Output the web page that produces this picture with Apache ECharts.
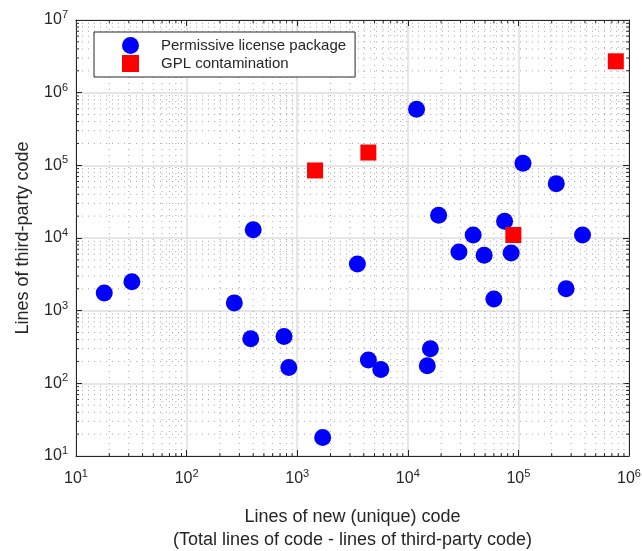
<!DOCTYPE html>
<html>
<head>
<meta charset="utf-8">
<script src="https://cdn.jsdelivr.net/npm/echarts@6/dist/echarts.min.js"></script>
<style>
  html, body { margin: 0; padding: 0; background: #fff; }
  #chart { width: 642px; height: 551px; }
</style>
</head>
<body>
<div id="chart"></div>
<script>
// [new lines of code, third-party lines]
const permissive = [
  [18, 1750], [32, 2500], [270, 1280], [380, 410], [760, 440], [840, 165],
  [1700, 18], [400, 13000], [3500, 4400], [4400, 210], [5700, 155],
  [15000, 175], [16000, 300], [12000, 590000], [19000, 20500],
  [29000, 6400], [39000, 11000], [49000, 5800], [60000, 1450],
  [75000, 17000], [86000, 6200], [110000, 107000], [220000, 56000],
  [270000, 2000], [380000, 11000]
];
const gpl = [
  [1450, 85000], [4400, 150000], [90000, 11000], [760000, 2700000]
];
const xDecades = [1, 2, 3, 4, 5, 6];
const yDecades = [1, 2, 3, 4, 5, 6, 7];

const FONT = "'Liberation Sans', Arial, sans-serif";
const INK = '#262626';

// minor grid positions (2..9 x 10^k)
const minorVals = (decs) => {
  const out = [];
  decs.slice(0, -1).forEach(k => {
    for (let m = 2; m <= 9; m++) out.push(m * Math.pow(10, k));
  });
  return out;
};
const xMinor = minorVals(xDecades);
const yMinor = minorVals(yDecades);
const XMIN = 10, XMAX = 1e6, YMIN = 10, YMAX = 1e7;

const dotted = { stroke: '#a8a8a8', lineWidth: 1, lineDash: [1, 5] };
const tickStyle = { stroke: INK, lineWidth: 1 };

const vertMinor = (params, api) => {
  const v = api.value(0);
  const b = api.coord([v, YMIN]);
  const t = api.coord([v, YMAX]);
  return {
    type: 'group',
    children: [
      { type: 'line', shape: { x1: b[0], y1: b[1], x2: t[0], y2: t[1] }, style: dotted },
      { type: 'line', shape: { x1: b[0], y1: b[1], x2: b[0], y2: b[1] - 3 }, style: tickStyle },
      { type: 'line', shape: { x1: t[0], y1: t[1], x2: t[0], y2: t[1] + 3 }, style: tickStyle }
    ]
  };
};
const horzMinor = (params, api) => {
  const v = api.value(1);
  const l = api.coord([XMIN, v]);
  const r = api.coord([XMAX, v]);
  return {
    type: 'group',
    children: [
      { type: 'line', shape: { x1: l[0], y1: l[1], x2: r[0], y2: r[1] }, style: dotted },
      { type: 'line', shape: { x1: l[0], y1: l[1], x2: l[0] + 3, y2: l[1] }, style: tickStyle },
      { type: 'line', shape: { x1: r[0], y1: r[1], x2: r[0] - 3, y2: r[1] }, style: tickStyle }
    ]
  };
};

const powLabel = (value) => '{b|10}{s|' + Math.round(Math.log10(value)) + '}';
const labelRich = {
  b: { fontSize: 16, fontFamily: FONT, color: INK },
  s: { fontSize: 11, fontFamily: FONT, color: INK, padding: [0, 0, 10, 0] }
};

const logAxis = (min, max, extra) => Object.assign({
  type: 'log',
  logBase: 10,
  min: min,
  max: max,
  axisLine: { show: true, onZero: false, lineStyle: { color: INK, width: 1 } },
  axisTick: { show: true, inside: true, length: 6, lineStyle: { color: INK } },
  minorTick: { show: false },
  splitLine: { show: false }
}, extra);

const chart = echarts.init(document.getElementById('chart'));

const option = {
  animation: false,
  backgroundColor: '#fff',
  grid: { left: 76, right: 13, top: 20, bottom: 95, containLabel: false, outerBoundsMode: 'none' },
  legend: {
    orient: 'vertical',
    left: 94,
    top: 32,
    padding: [5, 9, 5, 28],
    itemGap: 1,
    itemWidth: 17,
    itemHeight: 17,
    backgroundColor: '#fff',
    borderColor: INK,
    borderWidth: 1,
    borderRadius: 0,
    textStyle: { fontSize: 15, fontFamily: FONT, color: INK, padding: [0, 0, 0, 17] },
    data: ['Permissive license package', 'GPL contamination']
  },
  xAxis: [
    logAxis(XMIN, XMAX, {
      position: 'bottom',
      name: 'Lines of new (unique) code\n(Total lines of code - lines of third-party code)',
      nameLocation: 'middle',
      nameGap: 50,
      nameTextStyle: { fontSize: 18, fontFamily: FONT, color: INK, lineHeight: 23 },
      axisLabel: { margin: 12, formatter: powLabel, rich: labelRich },
      splitLine: { show: true, lineStyle: { color: '#dedede', width: 1.5 } }
    }),
    logAxis(XMIN, XMAX, { position: 'top', axisLabel: { show: false } })
  ],
  yAxis: [
    logAxis(YMIN, YMAX, {
      position: 'left',
      name: 'Lines of third-party code',
      nameLocation: 'middle',
      nameGap: 44,
      nameTextStyle: { fontSize: 18, fontFamily: FONT, color: INK },
      axisLabel: { margin: 8, formatter: powLabel, rich: labelRich },
      splitLine: { show: true, lineStyle: { color: '#dedede', width: 1.5 } }
    }),
    logAxis(YMIN, YMAX, { position: 'right', axisLabel: { show: false } })
  ],
  series: [
    {
      type: 'custom',
      silent: true,
      z: 1,
      xAxisIndex: 0, yAxisIndex: 0,
      renderItem: vertMinor,
      data: xMinor.map(v => [v, YMIN])
    },
    {
      type: 'custom',
      silent: true,
      z: 1,
      xAxisIndex: 0, yAxisIndex: 0,
      renderItem: horzMinor,
      data: yMinor.map(v => [XMIN, v])
    },
    {
      name: 'Permissive license package',
      type: 'scatter',
      z: 5,
      symbol: 'circle',
      symbolSize: 17,
      itemStyle: { color: '#0000ff', opacity: 1 },
      data: permissive
    },
    {
      name: 'GPL contamination',
      type: 'scatter',
      z: 6,
      symbol: 'rect',
      symbolSize: 16,
      itemStyle: { color: '#ff0000', opacity: 1 },
      data: gpl
    }
  ]
};

chart.setOption(option);
</script>
</body>
</html>
